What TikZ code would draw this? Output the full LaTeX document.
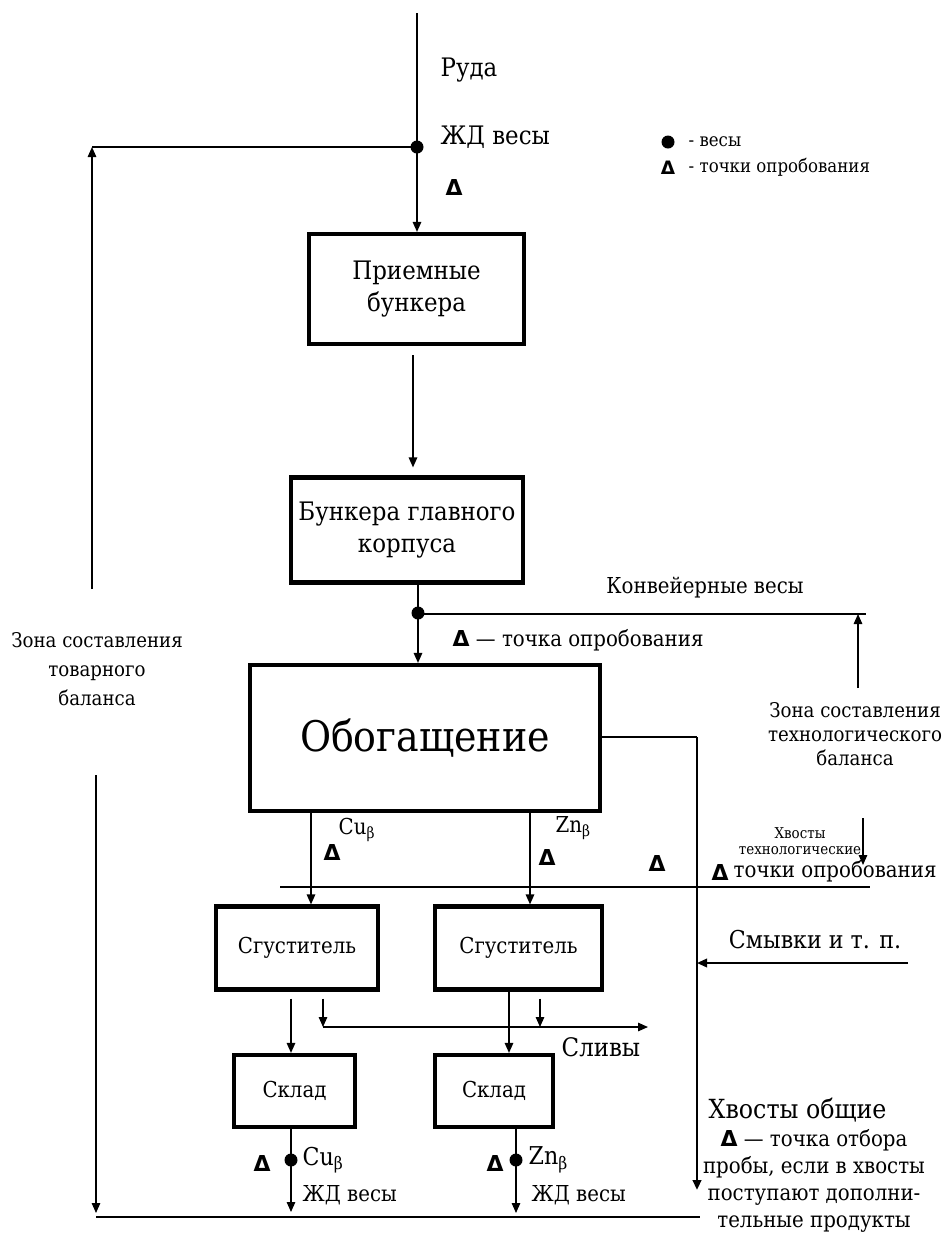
\documentclass[tikz,border=0pt]{standalone}
\usepackage{fontspec}
\setmainfont{DejaVu Serif Condensed}
\newfontfamily\dejavu{DejaVu Sans}
\usetikzlibrary{arrows.meta, positioning, calc}
\newcommand{\samplept}{{\dejavu\bfseries Δ}}

\tikzset{
  stage/.style={draw, line width=2.4pt, align=center},
  flow/.style={line width=0.8pt, -{Triangle[length=0.2cm,width=0.17cm]}},
  wdot/.style={circle, fill, minimum size=0.26cm},
  txtL/.style={font=\fontsize{14.5}{18.5}\selectfont},
  txtM/.style={font=\fontsize{12.5}{16.5}\selectfont},
  txtS/.style={font=\fontsize{10.5}{14}\selectfont},
}

\begin{document}
\begin{tikzpicture}[x=0.02cm, y=-0.02cm, line width=0.8pt, every node/.style={inner sep=0pt}]
           \useasboundingbox (0,0) rectangle (947,1235);
           % boxes
           \node[stage, txtL, minimum width=4.3cm, minimum height=2.2cm] at (416.5,289) (priem) {Приемные\\бункера};
           \node[stage, txtL, minimum width=4.64cm, minimum height=2.1cm] at (407,530) (bunker) {Бункера главного\\корпуса};
           \node[stage, font=\fontsize{24}{30}\selectfont, minimum width=7cm, minimum height=2.92cm] at (425,738) (obog) {Обогащение};
           \node[stage, txtM, minimum width=3.24cm, minimum height=1.66cm] at (297,948) (sg1) {Сгуститель};
           \node[stage, txtM, minimum width=3.34cm, minimum height=1.66cm] at (518.5,948) (sg2) {Сгуститель};
           \node[stage, txtM, minimum width=2.42cm, minimum height=1.44cm] at (294.5,1091) (sk1) {Склад};
           \node[stage, txtM, minimum width=2.36cm, minimum height=1.44cm] at (494,1091) (sk2) {Склад};

           % free ends
           \coordinate (oretop) at (417,13);
           \coordinate (tovtop) at (92,147);
           \coordinate (tovbot) at (92,589);
           \coordinate (tovB1) at (96,775);
           \coordinate (tovB2) at (96,1213);
           \coordinate (botL) at (96,1217);
           \coordinate (botR) at (700,1217);
           \coordinate (conv) at (866,614);
           \coordinate (tzona) at (858,688);
           \coordinate (tail1) at (697,737);
           \coordinate (tail2) at (697,1190);
           \coordinate (hl) at (280,887);
           \coordinate (hr) at (870,887);
           \coordinate (smyv) at (908,963);
           \coordinate (slivL) at (323,1027);
           \coordinate (slivM) at (540,1027);
           \coordinate (slivR) at (648,1027);
           \coordinate (out1) at (291,1212);
           \coordinate (out2) at (516,1213);
           \coordinate (xvt1) at (863,818);
           \coordinate (xvt2) at (863,865);

           % lines
           \draw[flow] (oretop) -- (oretop |- priem.north);
           \draw[flow] (tovbot) -- (tovtop);
           \draw (tovtop) -- (417,147);
           \draw[flow, shorten <=0.18cm, shorten >=0.16cm] (priem.south -| 413,0) -- (bunker.north -| 413,0);
           \draw[flow] (bunker.south -| 418,0) -- (obog.north -| 418,0);
           \draw (418,614) -- (conv);
           \draw[flow] (tzona) -- (tzona |- conv);
           \draw[flow] (tovB1) -- (tovB2);
           \draw[line width=1.1pt] (botL) -- (botR);
           \draw[line width=1.5pt] (obog.east |- tail1) -- (tail1);
           \draw[flow, line width=1.5pt] (tail1) -- (tail2);
           \draw[flow] (obog.south -| 311,0) -- (sg1.north -| 311,0);
           \draw[flow] (obog.south -| 530,0) -- (sg2.north -| 530,0);
           \draw[line width=1.1pt] (hl) -- (hr);
           \draw[flow, line width=1.1pt] (smyv) -- (smyv -| tail1);
           \draw[flow, shorten <=0.14cm] (sg1.south -| 291,0) -- (sk1.north -| 291,0);
           \draw[flow] (slivL) -- (slivR);
           \draw[flow] ($(sg1.south -| slivL)+(0,7)$) -- (slivL);
           \draw[flow] ($(sg2.south -| slivM)+(0,7)$) -- (slivM);
           \draw[flow] (sg2.south -| 509,0) -- (sk2.north -| 509,0);
           \draw[flow] (sk1.south -| out1) -- (out1);
           \draw[flow] (sk2.south -| out2) -- (out2);
           \draw[flow] (xvt1) -- (xvt2);

           % scales
           \node[wdot] at (417,147) (w1) {};
           \node[wdot] at (418,613) (w2) {};
           \node[wdot] at (291,1160) (w3) {};
           \node[wdot] at (516,1160) (w4) {};

           % labels
           \node[txtL, anchor=west] at (440,70) (ore) {Руда};
           \node[txtL, anchor=west] at (440,137) (rw1) {ЖД весы};
           \node[txtM] at (454,187) (p1) {\samplept};
           \node[wdot] at (668,142) (legw) {};
           \node[txtS, anchor=west] at (688,142) (legwt) {- весы};
           \node[txtS] at (668,168) (legp) {\samplept};
           \node[txtS, anchor=west] at (688,167) (legpt) {- точки опробования};
           \node[txtM] at (705,588) (convt) {Конвейерные весы};
           \node[txtM, anchor=west] at (452,640) (p2) {\samplept{} — точка опробования};
           \node[font=\fontsize{11.5}{16.3}\selectfont, align=center] at (97,669) (tovzone) {Зона составления\\товарного\\баланса};
           \node[font=\fontsize{11.5}{13.8}\selectfont, align=center] at (855,734) (tehzone) {Зона составления\\технологического\\баланса};
           \node[font=\fontsize{8.5}{9.5}\selectfont, align=center] at (800,841) (xvt) {Хвосты\\технологические};
           \node[txtM] at (657,863) (p3) {\samplept};
           \node[txtM] at (720,872) (p4) {\samplept};
           \node[txtM, anchor=west] at (733,871) (p4t) {точки опробования};
           \node[txtM] at (332,852) (pcu) {\samplept};
           \node[txtM, anchor=west] at (338,830) (cut) {Cu\textsubscript{β}};
           \node[txtM] at (547,857) (pzn) {\samplept};
           \node[txtM, anchor=west] at (555,828) (znt) {Zn\textsubscript{β}};
           \node[font=\fontsize{14}{17}\selectfont] at (815,940) (smyvt) {Смывки и т. п.};
           \node[txtL] at (601,1047) (slivt) {Сливы};
           \node[txtM] at (262,1163) (pcu2) {\samplept};
           \node[font=\fontsize{14}{17}\selectfont, anchor=west] at (302,1160) (cu2) {Cu\textsubscript{β}};
           \node[txtM, anchor=west] at (302,1195) (rw2) {ЖД весы};
           \node[txtM] at (495,1163) (pzn2) {\samplept};
           \node[font=\fontsize{14}{17}\selectfont, anchor=west] at (528,1160) (zn2) {Zn\textsubscript{β}};
           \node[txtM, anchor=west] at (531,1195) (rw3) {ЖД весы};
           \node[font=\fontsize{15}{17}\selectfont, anchor=west] at (708,1110) (xvo) {Хвосты общие};
           \node[font=\fontsize{12.5}{15.3}\selectfont, align=center] at (814,1181) (xvot) {\samplept{} — точка отбора\\пробы, если в хвосты\\поступают дополни-\\тельные продукты};
        \end{tikzpicture}
\end{document}
